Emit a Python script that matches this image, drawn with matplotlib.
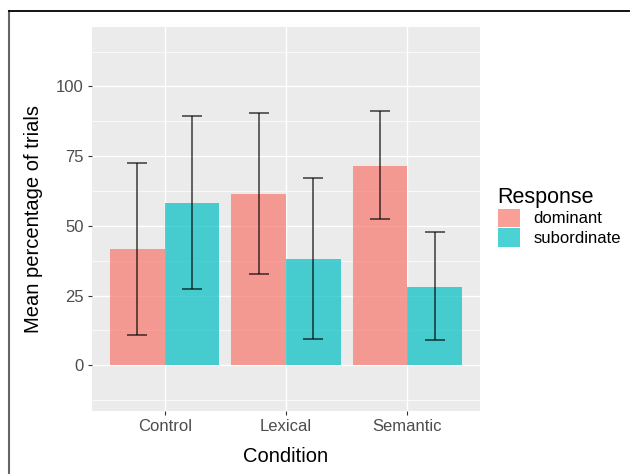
import matplotlib.pyplot as plt
import matplotlib.patches as mpatches
from matplotlib.lines import Line2D
import numpy as np

plt.rcParams['font.family'] = ['Liberation Sans', 'DejaVu Sans']

# datos
conditions = ['Control', 'Lexical', 'Semantic']
responses = ['dominant', 'subordinate']
mean_dominant = [41.6, 61.5, 71.5]
mean_subordinate = [58.3, 38.2, 28.2]
low_dominant = [10.8, 32.7, 52.4]
high_dominant = [72.6, 90.5, 91.0]
low_subordinate = [27.5, 9.4, 9.1]
high_subordinate = [89.2, 67.2, 47.7]

colors = ['#F8766D', '#00BFC4']
W, H = 630, 474

fig = plt.figure(figsize=(W / 100, H / 100), dpi=100)
fig.patch.set_facecolor('white')

# panel en pixeles del original
left, right, top, bottom = 92, 480, 26.7, 410.7
ax = fig.add_axes([left / W, 1 - bottom / H, (right - left) / W, (bottom - top) / H])
ax.set_facecolor('#EBEBEB')

x = np.arange(1, len(conditions) + 1)
bw = 0.45
means = [mean_dominant, mean_subordinate]
lows = [low_dominant, low_subordinate]
highs = [high_dominant, high_subordinate]

for i in range(2):
    xpos = x + (i - 0.5) * bw
    ax.bar(xpos, means[i], width=bw, color=colors[i], alpha=0.7, zorder=2, linewidth=0)
    m = np.array(means[i])
    err = [m - np.array(lows[i]), np.array(highs[i]) - m]
    ax.errorbar(xpos, m, yerr=err, fmt='none', ecolor='black', elinewidth=1.1,
                capsize=7.5, capthick=1.1, alpha=0.75, zorder=3)

ax.set_xlim(0.4, 3.6)
ax.set_ylim(-16.3, 121.4)
ax.set_xticks(x)
ax.set_xticklabels(conditions)
ax.set_yticks([0, 25, 50, 75, 100])
ax.set_yticks([-12.5, 12.5, 37.5, 62.5, 87.5, 112.5], minor=True)

ax.grid(True, which='major', color='white', linewidth=1.0, zorder=0)
ax.grid(True, which='minor', axis='y', color='white', linewidth=0.5, zorder=0)
ax.set_axisbelow(True)
for s in ax.spines.values():
    s.set_visible(False)

ax.tick_params(which='major', length=3, width=0.8, color='#333333',
               labelcolor='#4D4D4D', labelsize=12, pad=3)
ax.tick_params(which='minor', length=0)
ax.tick_params(axis='x', which='minor', bottom=False)

ax.set_xlabel('Condition', fontsize=14.5, color='black', labelpad=9)
ax.set_ylabel('Mean percentage of trials', fontsize=14.5, color='black', labelpad=9)

# leyenda
handles = [mpatches.Patch(facecolor=c, alpha=0.7, edgecolor='none') for c in colors]
leg = fig.legend(handles, responses, loc='upper left', bbox_to_anchor=(491 / W, 1 - 180 / H),
                 frameon=False, title='Response', title_fontsize=15.5, fontsize=12,
                 handlelength=1.35, handleheight=1.35, handletextpad=0.8,
                 labelspacing=0.05, alignment='left', borderaxespad=0)

# borde de la captura
fig.add_artist(Line2D([8.5 / W, 8.5 / W], [0, 1 - 11.3 / H], color='#666666', linewidth=1.5))
fig.add_artist(Line2D([8.5 / W, 1], [1 - 11.3 / H, 1 - 11.3 / H], color='black', linewidth=1.3))

fig.savefig('out.png', dpi=100)
